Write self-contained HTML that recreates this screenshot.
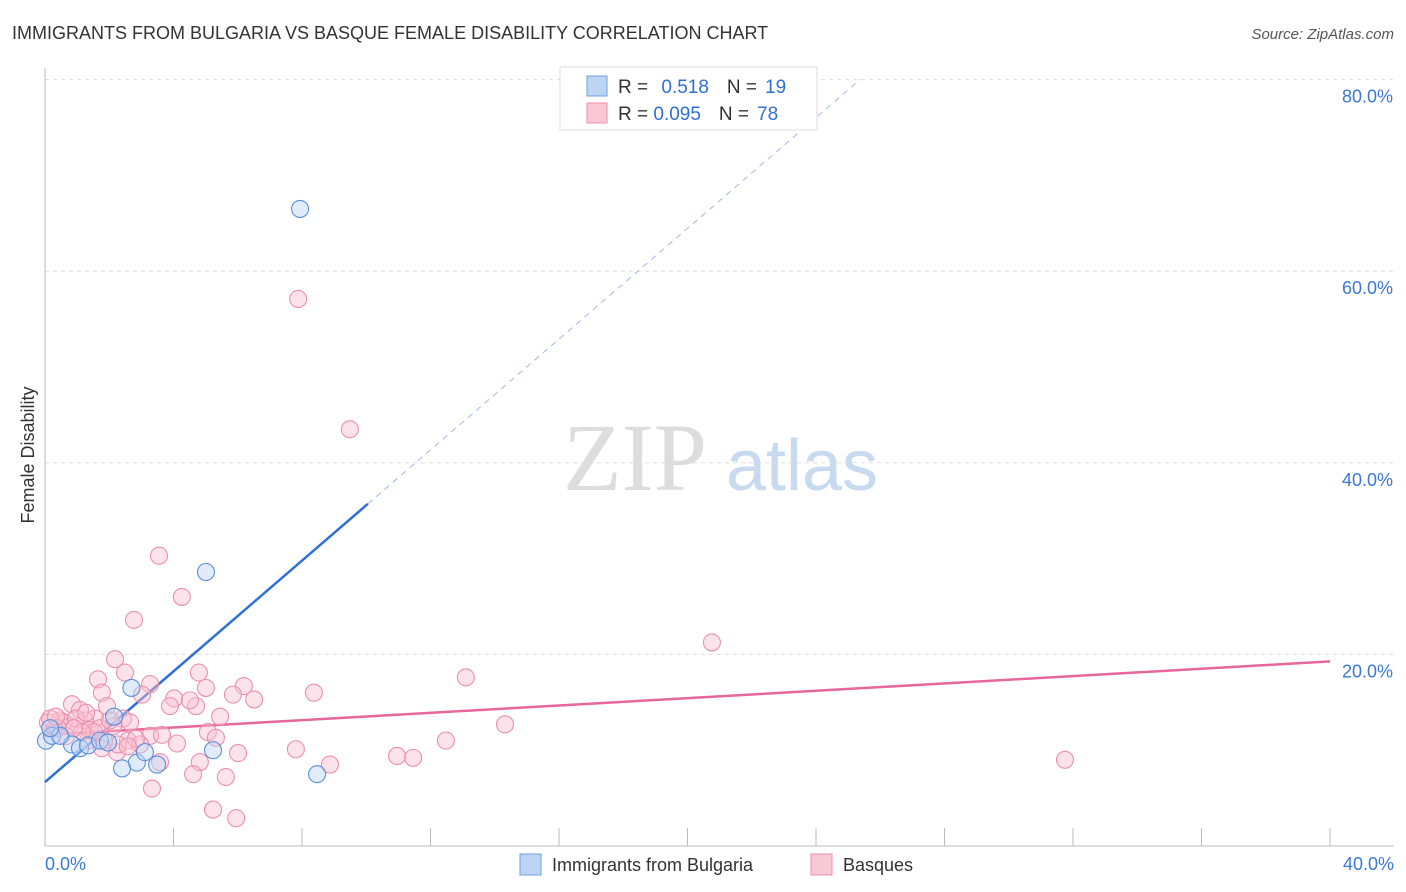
<!DOCTYPE html>
<html><head><meta charset="utf-8"><style>
body{margin:0;background:#fff;font-family:"Liberation Sans",sans-serif}
</style></head><body>
<svg id="chart" width="1406" height="892" style="display:block">
<text x="12" y="39" font-size="18" fill="#333">IMMIGRANTS FROM BULGARIA VS BASQUE FEMALE DISABILITY CORRELATION CHART</text>
<text x="1394" y="39" font-size="15" fill="#555" font-style="italic" text-anchor="end">Source: ZipAtlas.com</text>
<text transform="translate(34,455) rotate(-90)" font-size="18" fill="#333" text-anchor="middle">Female Disability</text>
<g><text x="635" y="490" font-size="96" fill="#ddd" font-family="Liberation Serif" text-anchor="middle">ZIP</text><text x="802" y="490" font-size="72" fill="#c8daf0" text-anchor="middle">atlas</text></g>
<g id="grid"></g><g id="axes"></g><g id="lines"></g><g id="pts"></g>
<g>
<rect x="560" y="67" width="257" height="63" fill="#fff" stroke="#ddd"/>
<rect x="587" y="76" width="20" height="20" fill="#bcd5f5" stroke="#6fa0e0"/>
<rect x="587" y="103" width="20" height="20" fill="#f9c8d6" stroke="#ec8fae"/>
<text x="618" y="93" font-size="19" fill="#333">R = <tspan fill="#2f6fd6" dx="8">0.518</tspan><tspan dx="18" fill="#333">N =</tspan><tspan dx="8" fill="#2f6fd6">19</tspan></text>
<text x="618" y="120" font-size="19" fill="#333">R = <tspan fill="#2f6fd6">0.095</tspan><tspan dx="18" fill="#333">N =</tspan><tspan dx="8" fill="#2f6fd6">78</tspan></text>
</g>
<g>
<rect x="520" y="854" width="21" height="21" fill="#bcd5f5" stroke="#6fa0e0"/>
<text x="552" y="871" font-size="18" fill="#333">Immigrants from Bulgaria</text>
<rect x="811" y="854" width="21" height="21" fill="#f9c8d6" stroke="#ec8fae"/>
<text x="843" y="871" font-size="18" fill="#333">Basques</text>
</g>
</svg>
<script>
const yTicks=[20,40,60,80];
const yTickLabels=["20.0%","40.0%","60.0%","80.0%"];
const xTickLabels=["0.0%","40.0%"];
const blueX=[7.94,5.01,2.69,2.15,0.03,0.22,0.84,1.09,1.34,1.71,2.86,2.40,3.49,5.23,8.47,3.11,0.47,1.96,0.16];
const blueY=[66.5,28.6,16.5,13.5,11.0,11.5,10.6,10.2,10.5,11.0,8.7,8.1,8.5,10.0,7.5,9.8,11.5,10.8,12.3];
const pinkX=[7.88,9.49,3.55,4.26,2.77,20.76,2.18,2.49,1.65,13.1,4.79,3.27,1.77,6.19,5.01,4.02,5.85,6.51,8.37,0.84,1.09,1.93,4.70,5.45,14.32,3.27,2.43,1.56,0.47,1.25,2.12,2.58,1.34,4.11,5.07,5.32,7.81,6.01,10.96,11.46,12.48,8.87,2.24,2.96,3.58,4.82,4.61,5.63,3.33,5.23,5.95,31.75,0.09,0.31,0.59,0.78,1.40,1.71,2.65,2.27,1.84,3.02,0.16,0.40,0.96,1.28,1.53,2.02,0.65,1.15,2.83,3.89,4.51,1.77,2.58,3.64,0.90,0.34];
const pinkY=[57.1,43.5,30.3,26.0,23.6,21.25,19.5,18.1,17.4,17.6,18.1,16.9,16.0,16.7,16.5,15.4,15.8,15.3,16.0,14.8,14.2,14.6,14.6,13.5,12.7,11.5,13.3,13.3,13.1,13.1,12.5,11.0,11.0,10.7,11.9,11.3,10.1,9.7,9.4,9.2,11.0,8.5,9.8,10.6,8.75,8.75,7.5,7.2,6.0,3.8,2.9,9.0,12.9,12.3,12.9,12.5,12.1,12.3,12.9,10.6,11.0,15.8,13.3,12.3,13.3,13.9,11.9,13.1,11.46,11.9,11.2,14.6,15.2,10.2,10.4,11.6,12.3,13.5];
const blueTrend=[6.67,2.89,10.05];   // intercept, slope, solid end x
const pinkTrend=[11.6,19.27];      // y at 0 and at 40
const X=v=>45+v*32.125, Y=v=>846-v*9.58;
const NS="http://www.w3.org/2000/svg";
function mk(p,t,a){const e=document.createElementNS(NS,t);for(const k in a)e.setAttribute(k,a[k]);document.getElementById(p).appendChild(e);return e;}
yTicks.forEach((t,i)=>{
 const g=mk('grid','line',{x1:45,x2:1394,y1:Y(t),y2:Y(t),stroke:'#ddd','stroke-dasharray':'4,4'});
 
 
 const l=mk('axes','text',{x:1393,y:Y(t)+23,'font-size':18,fill:'#3b78d8','text-anchor':'end'});
 l.textContent=yTickLabels[i];
 
 
});
const ax=mk('axes','line',{x1:45,x2:45,y1:68,y2:846,stroke:'#bbb'});


const bx=mk('axes','line',{x1:45,x2:1394,y1:846,y2:846,stroke:'#bbb'});


for(let i=0;i<=10;i++){const t=mk('axes','line',{x1:X(i*4),x2:X(i*4),y1:828,y2:846,stroke:'#bbb'});
 
 }
[[0,'start',45],[40,'end',1394]].forEach((d,i)=>{const t=mk('axes','text',{x:d[2],y:870,'font-size':18,fill:'#3b78d8','text-anchor':d[1]});t.textContent=xTickLabels[i];
 
 });
function pts(xs,ys,fill,stroke,name){xs.forEach((x,i)=>{const c=mk('pts','circle',{cx:X(x),cy:Y(ys[i]),r:8.5,fill,'fill-opacity':0.45,stroke,'stroke-width':1.1});
 
 });}
pts(pinkX,pinkY,'#f9c0d0','#ec8fae','basques-point');
pts(blueX,blueY,'#bcd5f5','#5a8fdc','bulgaria-point');
const [b0,b1,bEnd]=blueTrend;
const l1=mk('lines','line',{x1:X(0),y1:Y(b0),x2:X(bEnd),y2:Y(b0+b1*bEnd),stroke:'#2f6fd6','stroke-width':2.5});


const xe=(80-b0)/b1;
const l2=mk('lines','line',{x1:X(bEnd),y1:Y(b0+b1*bEnd),x2:X(xe),y2:Y(80),stroke:'#9cbbe8','stroke-width':1,'stroke-dasharray':'6,5'});


const l3=mk('lines','line',{x1:X(0),y1:Y(pinkTrend[0]),x2:X(40),y2:Y(pinkTrend[1]),stroke:'#e8679a','stroke-width':2.5});


</script>
</body></html>
